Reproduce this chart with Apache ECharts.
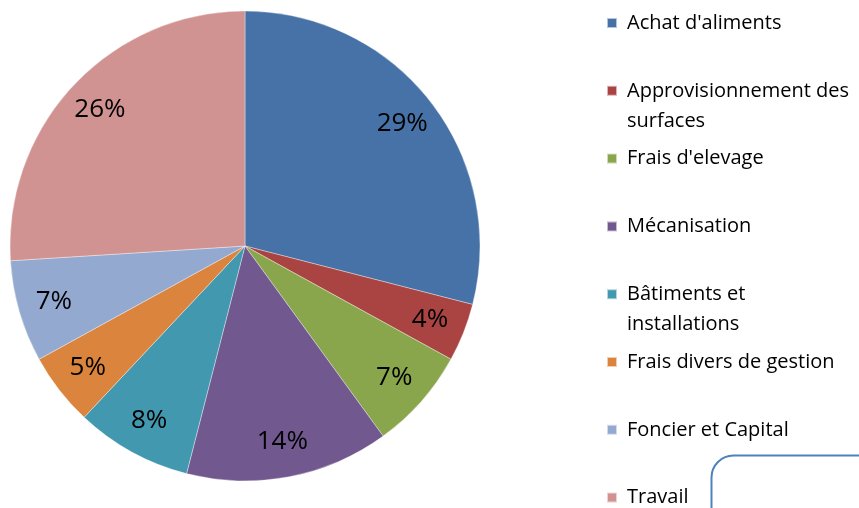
<!DOCTYPE html>
<html>
<head>
<meta charset="utf-8">
<script src="https://cdn.jsdelivr.net/npm/echarts@6/dist/echarts.min.js"></script>
<style>
  html, body { margin: 0; padding: 0; background: #fff; }
  #chart { width: 859px; height: 508px; }
</style>
</head>
<body>
<div id="chart"></div>
<script>
  // postes de charges (%)
  const categories = [
    "Achat d'aliments",
    'Approvisionnement des surfaces',
    "Frais d'elevage",
    'Mécanisation',
    'Bâtiments et installations',
    'Frais divers de gestion',
    'Foncier et Capital',
    'Travail'
  ]
  // libellés de légende, avec retour à la ligne
  const legendLines = [
    ["Achat d'aliments"],
    ['Approvisionnement des', 'surfaces'],
    ["Frais d'elevage"],
    ['Mécanisation'],
    ['Bâtiments et', 'installations'],
    ['Frais divers de gestion'],
    ['Foncier et Capital'],
    ['Travail']
  ]
  const values = [29, 4, 7, 14, 8, 5, 7, 26]
  const colors = ['#4672a8', '#a94442', '#8aa64c', '#71588f', '#4198af', '#db843d', '#93a9cf', '#d19392']

  const data = categories.map((c, i) => ({ name: c, value: values[i] }))
  const font = 'Open Sans, Noto Sans, sans-serif'
  const lh = 30

  // une légende par poste pour garder le pas régulier
  const legends = categories.map((c, i) => {
    const lines = legendLines[i]
    const txt = lines.length > 1 ? '\n' + lines.join('\n') : lines[0]
    const n = lines.length > 1 ? 3 : 1
    const yc = 23 + 67.8 * i
    return {
      data: [c],
      orient: 'vertical',
      left: 606,
      top: yc - (n * lh) / 2,
      padding: 0,
      itemWidth: 10,
      itemHeight: 10,
      icon: 'rect',
      selectedMode: false,
      formatter: () => txt,
      textStyle: { fontFamily: font, fontSize: 20, color: '#000', lineHeight: lh, padding: [0, 0, 0, 5] }
    }
  })

  const chart = echarts.init(document.getElementById('chart'))
  chart.setOption({
    animation: false,
    color: colors,
    legend: legends,
    series: [
      {
        type: 'pie',
        center: [245, 246],
        radius: 235,
        startAngle: 90,
        clockwise: true,
        data: data,
        label: { show: false },
        labelLine: { show: false },
        itemStyle: { borderColor: 'rgba(255,255,255,0.6)', borderWidth: 0.6 },
        emphasis: { disabled: true }
      },
      {
        // série transparente pour placer les pourcentages vers 0.83R
        type: 'pie',
        center: [245, 246],
        radius: [157, 235],
        startAngle: 90,
        clockwise: true,
        silent: true,
        data: data,
        itemStyle: { color: 'transparent' },
        label: {
          show: true,
          position: 'inside',
          formatter: '{c}%',
          fontFamily: font,
          fontSize: 26,
          color: '#000'
        },
        labelLine: { show: false },
        emphasis: { disabled: true }
      }
    ],
    graphic: [
      {
        type: 'rect',
        shape: { x: 711.5, y: 455.5, width: 200, height: 100, r: 22 },
        style: { fill: 'none', stroke: '#4f81bd', lineWidth: 2 },
        silent: true
      }
    ]
  })
</script>
</body>
</html>
